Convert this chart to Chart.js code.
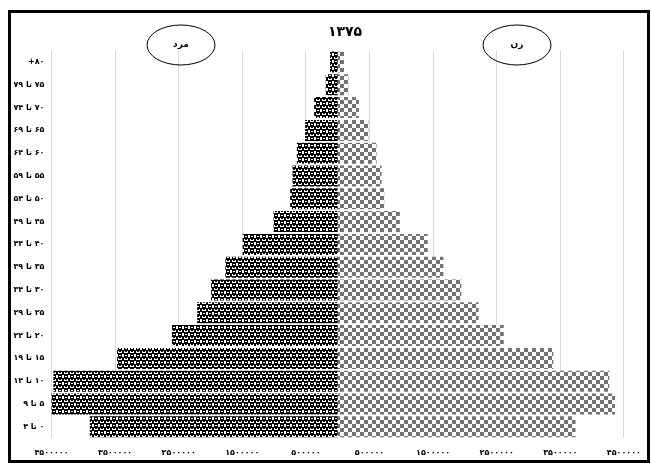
<!DOCTYPE html>
<html lang="fa">
<head>
<meta charset="utf-8">
<title>هرم سنی ۱۳۷۵</title>
<script src="https://cdn.jsdelivr.net/npm/chart.js@4/dist/chart.umd.min.js"></script>
<style>
  html, body { margin: 0; padding: 0; background: #fff; }
  canvas { display: block; }
</style>
</head>
<body>
<canvas id="pyramid" width="651" height="464" dir="rtl"></canvas>
<script>
// Age groups, oldest at the top
const ageGroups = [
  '۸۰+', '۷۵ تا ۷۹', '۷۰ تا ۷۴', '۶۵ تا ۶۹', '۶۰ تا ۶۴', '۵۵ تا ۵۹',
  '۵۰ تا ۵۴', '۴۵ تا ۴۹', '۴۰ تا ۴۴', '۳۵ تا ۳۹', '۳۰ تا ۳۴', '۲۵ تا ۲۹',
  '۲۰ تا ۲۴', '۱۵ تا ۱۹', '۱۰ تا ۱۴', '۵ تا ۹', '۰ تا ۴'
];

// Population by age group
const males = [
  120000, 188000, 371000, 512000, 642000, 710000, 747000, 1008000, 1494000,
  1766000, 1990000, 2210000, 2607000, 3469000, 4470000, 4510000, 3898000
];
const females = [
  99000, 167000, 334000, 481000, 611000, 690000, 731000, 977000, 1415000,
  1661000, 1943000, 2215000, 2611000, 3390000, 4270000, 4360000, 3740000
];

// Value axis ticks (men to the left, women to the right)
const xTicks = [
  -4500000, -3500000, -2500000, -1500000, -500000,
  500000, 1500000, 2500000, 3500000, 4500000
];

const titleText = '۱۳۷۵';
const maleLabel = 'مرد';
const femaleLabel = 'زن';

const FA_DIGITS = '۰۱۲۳۴۵۶۷۸۹';
const toFa = n => String(n).replace(/\d/g, d => FA_DIGITS[d]);

// Bitmap fill patterns
function makePattern(rows, fg, bg) {
  const h = rows.length, w = rows[0].length;
  const c = document.createElement('canvas');
  c.width = w; c.height = h;
  const g = c.getContext('2d');
  g.fillStyle = bg;
  g.fillRect(0, 0, w, h);
  g.fillStyle = fg;
  for (let y = 0; y < h; y++) {
    for (let x = 0; x < w; x++) {
      if (rows[y][x] === '1') g.fillRect(x, y, 1, 1);
    }
  }
  return document.getElementById('pyramid').getContext('2d').createPattern(c, 'repeat');
}

const weave = makePattern([
  '111111',
  '101101',
  '001100',
  '111111',
  '110011',
  '010010',
  '110011'
], '#000000', '#ffffff');

const checker = makePattern([
  '11110000',
  '11110000',
  '11110000',
  '11110000',
  '00001111',
  '00001111',
  '00001111',
  '00001111'
], '#737373', '#ffffff');

const decorations = {
  id: 'decorations',
  beforeDraw(chart) {
    const ctx = chart.ctx;
    ctx.save();
    ctx.fillStyle = '#ffffff';
    ctx.fillRect(0, 0, chart.width, chart.height);
    ctx.restore();
  },
  afterDraw(chart) {
    const ctx = chart.ctx;
    ctx.save();
    // outer frame
    ctx.strokeStyle = '#000000';
    ctx.lineWidth = 3;
    ctx.strokeRect(9.5, 11.5, 639, 450);

    // title
    ctx.fillStyle = '#000000';
    ctx.textAlign = 'center';
    ctx.textBaseline = 'middle';
    ctx.font = 'bold 14px "DejaVu Sans"';
    ctx.fillText(titleText, 345, 32);

    // series tags in ellipses
    ctx.lineWidth = 1;
    ctx.font = 'bold 9px "DejaVu Sans"';
    [[181, maleLabel], [517, femaleLabel]].forEach(([cx, txt]) => {
      ctx.beginPath();
      ctx.ellipse(cx, 45, 34, 20, 0, 0, Math.PI * 2);
      ctx.stroke();
      ctx.fillText(txt, cx, 45);
    });
    ctx.restore();
  }
};

new Chart(document.getElementById('pyramid'), {
  type: 'bar',
  data: {
    labels: ageGroups,
    datasets: [
      {
        label: maleLabel,
        data: males.map(v => -v),
        backgroundColor: weave,
        borderWidth: 0,
        barPercentage: 0.92,
        categoryPercentage: 1
      },
      {
        label: femaleLabel,
        data: females,
        backgroundColor: checker,
        borderWidth: 0,
        barPercentage: 0.92,
        categoryPercentage: 1
      }
    ]
  },
  options: {
    indexAxis: 'y',
    responsive: false,
    animation: false,
    events: [],
    layout: { padding: { left: 0, right: 25.3, top: 50.6, bottom: 0 } },
    plugins: {
      legend: { display: false },
      title: { display: false },
      tooltip: { enabled: false }
    },
    scales: {
      x: {
        stacked: true,
        min: -4500000,
        max: 4500000,
        afterBuildTicks(axis) {
          axis.ticks = xTicks.map(v => ({ value: v }));
        },
        afterFit(axis) { axis.height = 25.8; },
        grid: { color: '#d9d9d9', lineWidth: 1, drawTicks: false },
        border: { display: false },
        ticks: {
          autoSkip: false,
          maxRotation: 0,
          padding: 10,
          color: '#000000',
          font: { family: 'DejaVu Sans', size: 8, weight: 'bold' },
          callback: v => toFa(Math.abs(v))
        }
      },
      y: {
        stacked: true,
        afterFit(axis) { axis.width = 51.5; },
        grid: { display: false, drawTicks: false },
        border: { display: false },
        ticks: {
          autoSkip: false,
          padding: 7,
          color: '#000000',
          font: { family: 'DejaVu Sans', size: 8, weight: 'bold' }
        }
      }
    }
  },
  plugins: [decorations]
});
</script>
</body>
</html>
